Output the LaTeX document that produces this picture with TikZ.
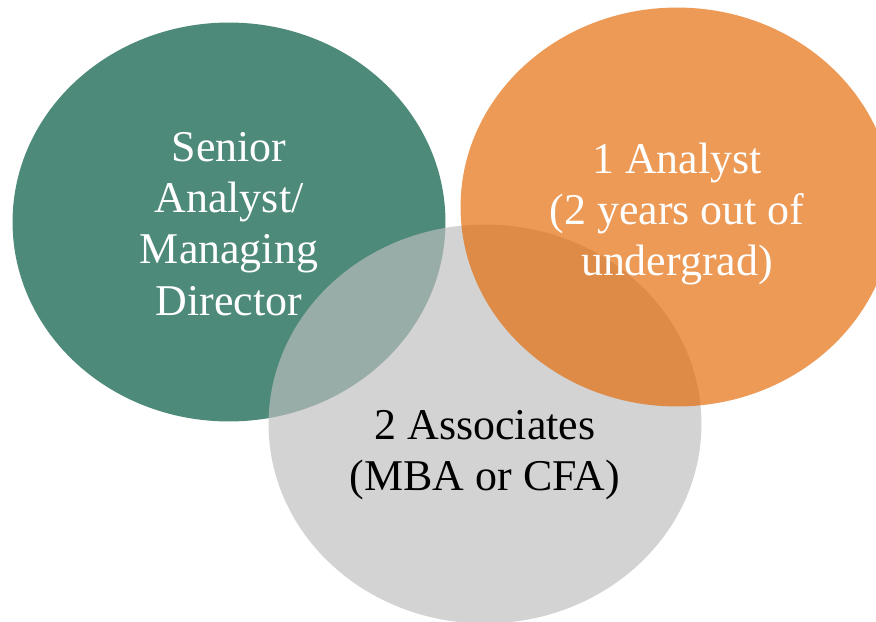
\documentclass[tikz,border=0pt]{standalone}
\usepackage{fontspec}
\setmainfont{Liberation Serif}
\usetikzlibrary{shapes.geometric}
\definecolor{seniorgreen}{RGB}{78,138,122}
\definecolor{analystorange}{RGB}{227,104,3}
\definecolor{associategray}{RGB}{190,190,190}

\begin{document}
\begin{tikzpicture}[x=0.02cm, y=-0.02cm,
  bubble/.style = {ellipse, minimum width=8.66cm, minimum height=7.98cm, inner sep=0pt},
  caption/.style = {align=center, inner sep=0pt, font=\fontsize{25}{29.2}\selectfont}]
\useasboundingbox (0,0) rectangle (876,622);
\clip (0,0) rectangle (876,622);
\node[bubble] (senior) [fill=seniorgreen] at (229,222) {};
\node[bubble] (associates) [fill=associategray, fill opacity=0.68] at (485,424) {};
\node[bubble] (analyst) [fill=analystorange, fill opacity=0.67] at (677,207) {};
\node[caption, text=white] (seniortext) at ([yshift=-0.04cm]senior.center) {Senior\\Analyst/\\Managing\\Director};
\node[caption, text=white] (analysttext) at ([yshift=-0.14cm]analyst.center) {1 Analyst\\(2 years out of\\undergrad)};
\node[caption, text=black] (associatestext) at ([yshift=-0.62cm]associates.center) {2 Associates\\(MBA or CFA)};
\end{tikzpicture}
\end{document}
